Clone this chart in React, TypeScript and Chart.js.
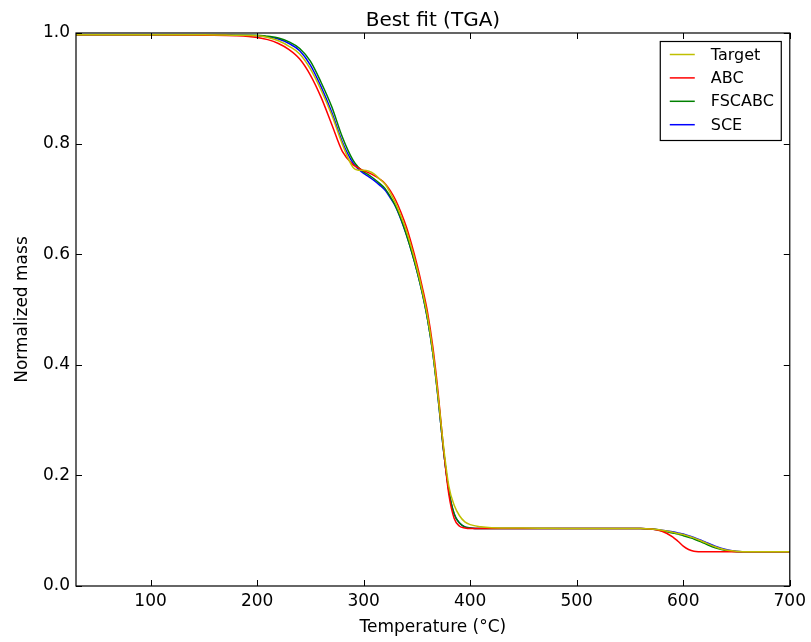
import React, { useEffect, useRef } from "react";
import { Chart, registerables } from "chart.js";

Chart.register(...registerables);

const TITLE = "Best fit (TGA)";
const X_LABEL = "Temperature (°C)";
const Y_LABEL = "Normalized mass";
const X_TICKS = [100, 200, 300, 400, 500, 600, 700];

const temperatures = [
  30, 100, 150, 180, 200, 210, 220, 230, 240, 250, 260, 270, 280, 290, 295, 300, 305, 310, 315, 320,
  325, 330, 335, 340, 345, 350, 355, 360, 365, 370, 375, 380, 385, 390, 395, 400, 410, 420, 450, 500,
  550, 560, 570, 580, 590, 595, 600, 605, 610, 620, 630, 640, 650, 660, 680, 700,
];

const target = [
  0.997, 0.997, 0.997, 0.996, 0.995, 0.992, 0.986, 0.976, 0.962, 0.935, 0.897, 0.852, 0.799, 0.757, 0.752, 0.752, 0.75, 0.745, 0.736, 0.727,
  0.711, 0.692, 0.669, 0.643, 0.611, 0.575, 0.534, 0.487, 0.424, 0.342, 0.252, 0.18, 0.146, 0.127, 0.116, 0.111, 0.107, 0.1055, 0.105, 0.104,
  0.104, 0.104, 0.103, 0.101, 0.097, 0.095, 0.093, 0.09, 0.087, 0.079, 0.071, 0.065, 0.063, 0.062, 0.062, 0.062,
];

const abc = [
  0.997, 0.997, 0.996, 0.995, 0.992, 0.988, 0.981, 0.97, 0.953, 0.924, 0.884, 0.835, 0.786, 0.762, 0.756, 0.751, 0.747, 0.742, 0.736, 0.728,
  0.715, 0.698, 0.676, 0.65, 0.618, 0.582, 0.541, 0.495, 0.432, 0.348, 0.248, 0.165, 0.122, 0.108, 0.105, 0.104, 0.104, 0.104, 0.104, 0.104,
  0.104, 0.104, 0.103, 0.099, 0.089, 0.081, 0.072, 0.066, 0.063, 0.062, 0.062, 0.062, 0.062, 0.062, 0.062, 0.062,
];

const fscabc = [
  0.997, 0.997, 0.997, 0.996, 0.996, 0.994, 0.991, 0.984, 0.972, 0.949, 0.911, 0.867, 0.812, 0.77, 0.757, 0.749, 0.743, 0.736, 0.728, 0.719,
  0.704, 0.687, 0.664, 0.636, 0.605, 0.57, 0.53, 0.482, 0.42, 0.338, 0.245, 0.172, 0.13, 0.114, 0.107, 0.105, 0.104, 0.104, 0.104, 0.104,
  0.104, 0.104, 0.103, 0.1, 0.096, 0.094, 0.091, 0.088, 0.085, 0.077, 0.069, 0.064, 0.062, 0.062, 0.062, 0.062,
];

const sce = [
  0.997, 0.997, 0.997, 0.996, 0.995, 0.993, 0.989, 0.981, 0.968, 0.942, 0.903, 0.857, 0.803, 0.765, 0.754, 0.746, 0.74, 0.733, 0.725, 0.716,
  0.702, 0.686, 0.663, 0.636, 0.605, 0.57, 0.53, 0.482, 0.42, 0.338, 0.245, 0.172, 0.13, 0.114, 0.107, 0.105, 0.104, 0.104, 0.104, 0.104,
  0.104, 0.104, 0.103, 0.101, 0.098, 0.096, 0.094, 0.091, 0.088, 0.08, 0.072, 0.066, 0.063, 0.062, 0.062, 0.062,
];

const seriesNames = ["Target", "ABC", "FSCABC", "SCE"];
const seriesColors = ["#bfbf00", "#ff0000", "#008000", "#0000ff"];
const seriesValues = [target, abc, fscabc, sce];

const FONT = "'DejaVu Sans', sans-serif";

const decorPlugin = {
  id: "decor",
  afterDatasetsDraw(chart: any) {
    const { ctx, chartArea: ca, scales } = chart;
    ctx.save();
    // frame
    ctx.strokeStyle = "#000";
    ctx.lineWidth = 1.2;
    ctx.strokeRect(ca.left, ca.top, ca.right - ca.left, ca.bottom - ca.top);
    // inward ticks on all four sides
    const tl = 6;
    ctx.lineWidth = 1;
    ctx.beginPath();
    for (const t of scales.x.ticks) {
      const px = Math.round(scales.x.getPixelForValue(t.value)) + 0.5;
      ctx.moveTo(px, ca.bottom);
      ctx.lineTo(px, ca.bottom - tl);
      ctx.moveTo(px, ca.top);
      ctx.lineTo(px, ca.top + tl);
    }
    for (const t of scales.y.ticks) {
      const py = Math.round(scales.y.getPixelForValue(t.value)) + 0.5;
      ctx.moveTo(ca.left, py);
      ctx.lineTo(ca.left + tl, py);
      ctx.moveTo(ca.right, py);
      ctx.lineTo(ca.right - tl, py);
    }
    ctx.stroke();

    // legend
    const bw = 121;
    const bh = 99;
    const bx = ca.right - 9 - bw;
    const by = ca.top + 8;
    ctx.fillStyle = "#fff";
    ctx.fillRect(bx, by, bw, bh);
    ctx.strokeStyle = "#000";
    ctx.lineWidth = 1.2;
    ctx.strokeRect(bx + 0.5, by + 0.5, bw, bh);
    ctx.font = `16px ${FONT}`;
    ctx.textBaseline = "middle";
    ctx.textAlign = "left";
    chart.data.datasets.forEach((ds: any, i: number) => {
      const y = by + 13.5 + i * 23.4;
      ctx.strokeStyle = ds.borderColor;
      ctx.lineWidth = 1.5;
      ctx.beginPath();
      ctx.moveTo(bx + 10, y);
      ctx.lineTo(bx + 35, y);
      ctx.stroke();
      ctx.fillStyle = "#000";
      ctx.fillText(ds.label, bx + 51, y + 1);
    });

    // title
    ctx.font = `20px ${FONT}`;
    ctx.textAlign = "center";
    ctx.textBaseline = "alphabetic";
    ctx.fillStyle = "#000";
    ctx.fillText(TITLE, (ca.left + ca.right) / 2, 26);
    ctx.restore();
  },
};

export default function App() {
  const ref = useRef<HTMLCanvasElement>(null);

  useEffect(() => {
    if (!ref.current) return;
    const datasets = seriesNames.map((name, i) => ({
      label: name,
      data: temperatures.map((t, j) => ({ x: t, y: seriesValues[i][j] })),
      borderColor: seriesColors[i],
      backgroundColor: seriesColors[i],
      borderWidth: 1.5,
      pointRadius: 0,
      fill: false,
      cubicInterpolationMode: "monotone" as const,
    }));

    const chart = new Chart(ref.current, {
      type: "line",
      data: { datasets },
      options: {
        animation: false,
        responsive: false,
        devicePixelRatio: 1,
        layout: { padding: { top: 33, right: 19, left: 0, bottom: 0 } },
        plugins: {
          legend: { display: false },
          title: { display: false },
          tooltip: { enabled: false },
        },
        scales: {
          x: {
            type: "linear",
            min: 30,
            max: 700,
            grid: { display: false, drawTicks: false },
            border: { display: false },
            afterBuildTicks: (s: any) => {
              s.ticks = X_TICKS.map((v) => ({ value: v }));
            },
            afterFit: (s: any) => {
              s.height = 56;
            },
            ticks: {
              color: "#000",
              font: { family: FONT, size: 17 },
              padding: 5,
              maxRotation: 0,
              autoSkip: false,
              callback: (v: any) => String(v),
            },
            title: {
              display: true,
              text: X_LABEL,
              color: "#000",
              font: { family: FONT, size: 17 },
              padding: { top: 0, bottom: 4 },
            },
          },
          y: {
            type: "linear",
            min: 0,
            max: 1,
            grid: { display: false, drawTicks: false },
            border: { display: false },
            afterFit: (s: any) => {
              s.width = 76;
            },
            ticks: {
              stepSize: 0.2,
              color: "#000",
              font: { family: FONT, size: 17 },
              padding: 6,
              callback: (v: any) => Number(v).toFixed(1),
            },
            title: {
              display: true,
              text: Y_LABEL,
              color: "#000",
              font: { family: FONT, size: 17 },
              padding: { top: 12, bottom: 0 },
            },
          },
        },
      },
      plugins: [decorPlugin],
    });
    return () => chart.destroy();
  }, []);

  return (
    <div style={{ position: "absolute", left: 0, top: 0, width: 811, height: 642, background: "#fff" }}>
      <canvas ref={ref} width={811} height={642} style={{ width: 811, height: 642 }} />
    </div>
  );
}
